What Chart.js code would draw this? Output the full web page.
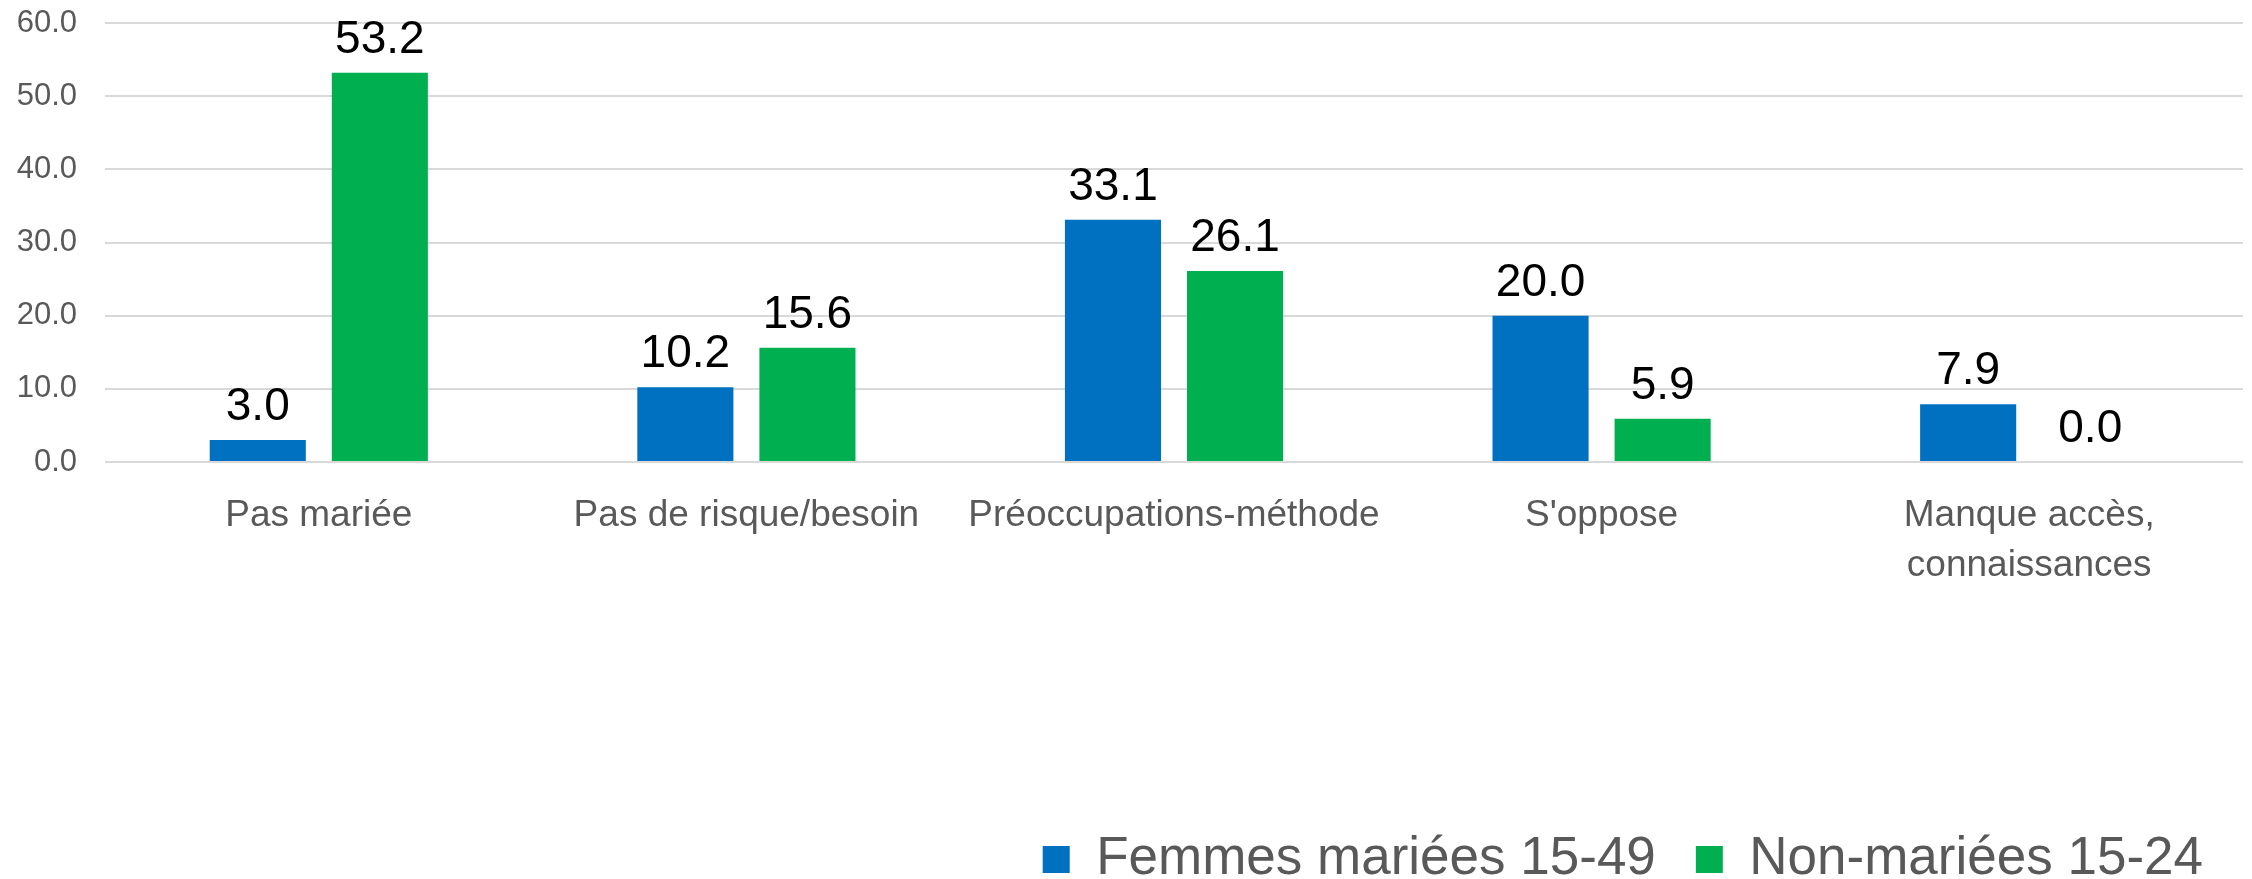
<!DOCTYPE html>
<html>
<head>
<meta charset="utf-8">
<script src="https://cdn.jsdelivr.net/npm/chart.js@4"></script>
<style>
  html, body { margin: 0; padding: 0; background: #fff; }
  #wrap { width: 2252px; height: 879px; }
</style>
</head>
<body>
<div id="wrap"><canvas id="myChart" width="2252" height="879"></canvas></div>
<script>
'use strict';

// ***** DATA *****
const categories = [
  'Pas mariée',
  'Pas de risque/besoin',
  'Préoccupations-méthode',
  "S'oppose",
  ['Manque accès,', 'connaissances']
];
const marriedValues = [3.0, 10.2, 33.1, 20.0, 7.9];
const unmarriedValues = [53.2, 15.6, 26.1, 5.9, 0.0];
const seriesNames = ['Femmes mariées 15-49', 'Non-mariées 15-24'];
const yTicks = [0, 10, 20, 30, 40, 50, 60];

const arial = "'Liberation Sans', Arial, sans-serif";

// small plugin: write the value above each bar
const valueLabels = {
  id: 'valueLabels',
  afterDatasetsDraw(chart) {
    const c = chart.ctx;
    c.save();
    c.font = '46px ' + arial;
    c.fillStyle = '#000';
    c.textAlign = 'center';
    c.textBaseline = 'alphabetic';
    chart.data.datasets.forEach((ds, i) => {
      chart.getDatasetMeta(i).data.forEach((bar, j) => {
        c.fillText(ds.data[j].toFixed(1), bar.x, bar.y - 20);
      });
    });
    c.restore();
  }
};

const ctx = document.getElementById('myChart').getContext('2d');

const myChart = new Chart(ctx, {
  type: 'bar',
  data: {
    labels: categories,
    datasets: [
      {
        label: seriesNames[0],
        data: marriedValues,
        backgroundColor: '#0070C0',
        categoryPercentage: 0.571,
        barPercentage: 0.787
      },
      {
        label: seriesNames[1],
        data: unmarriedValues,
        backgroundColor: '#00B050',
        categoryPercentage: 0.571,
        barPercentage: 0.787
      }
    ]
  },
  options: {
    responsive: false,
    animation: false,
    layout: { padding: { top: 23, right: 9, left: 0, bottom: -17 } },
    plugins: {
      tooltip: { enabled: false },
      legend: {
        position: 'bottom',
        align: 'end',
        labels: {
          font: { size: 53, family: arial },
          color: '#595959',
          boxWidth: 27,
          boxHeight: 27,
          padding: 40
        }
      }
    },
    scales: {
      x: {
        grid: { display: false },
        border: { display: false },
        ticks: {
          font: { size: 37, family: arial, lineHeight: 1.35 },
          color: '#595959',
          padding: 21,
          maxRotation: 0,
          autoSkip: false
        },
        afterFit(scale) { scale.height = 331; }
      },
      y: {
        min: 0,
        max: 60,
        afterBuildTicks(scale) { scale.ticks = yTicks.map(v => ({ value: v })); },
        // tick marks kept only as invisible spacing between labels and plot
        grid: { color: '#d9d9d9', lineWidth: 2, drawTicks: true, tickLength: 28, tickColor: 'rgba(0,0,0,0)' },
        border: { display: false },
        ticks: {
          font: { size: 31, family: arial },
          color: '#595959',
          padding: 0,
          callback: v => v.toFixed(1)
        },
        afterFit(scale) { scale.width = 105; }
      }
    }
  },
  plugins: [valueLabels]
});
</script>
</body>
</html>
